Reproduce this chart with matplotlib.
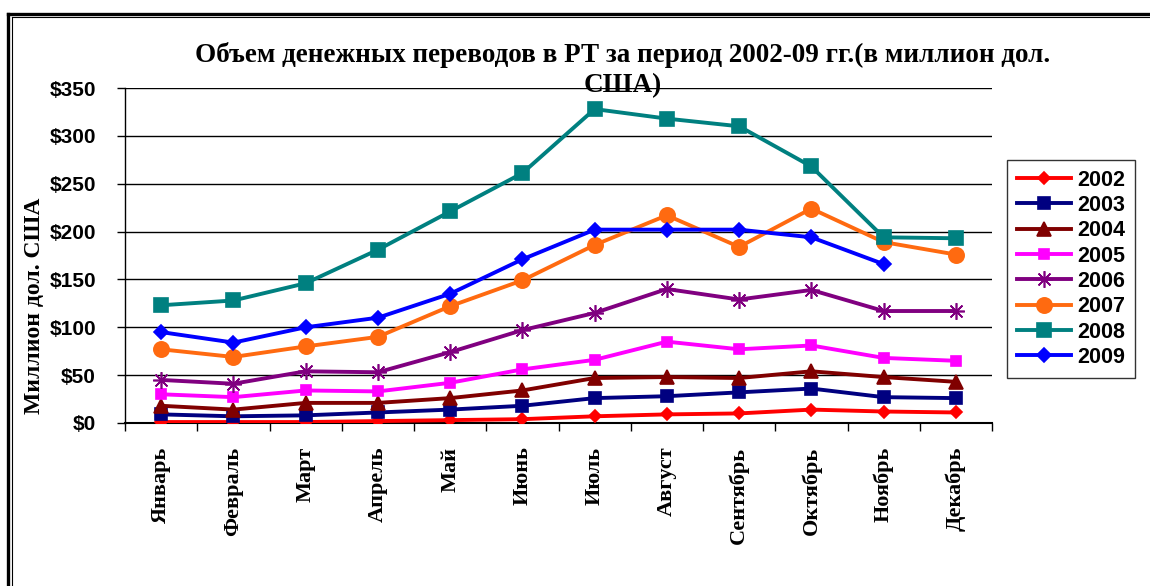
import numpy as np
import matplotlib.pyplot as plt
from matplotlib.lines import Line2D

months = ['Январь', 'Февраль', 'Март', 'Апрель', 'Май', 'Июнь', 'Июль',
          'Август', 'Сентябрь', 'Октябрь', 'Ноябрь', 'Декабрь']

y2002 = [1, 1, 1, 2, 3, 4, 7, 9, 10, 14, 12, 11]
y2003 = [9, 7, 8, 11, 14, 18, 26, 28, 32, 36, 27, 26]
y2004 = [18, 14, 21, 21, 26, 34, 47, 48, 47, 54, 48, 43]
y2005 = [30, 27, 34, 33, 42, 56, 66, 85, 77, 81, 68, 65]
y2006 = [45, 41, 54, 53, 74, 97, 115, 140, 129, 139, 117, 117]
y2007 = [77, 69, 80, 90, 122, 149, 186, 217, 184, 224, 189, 176]
y2008 = [123, 128, 146, 181, 221, 261, 328, 318, 310, 268, 194, 193]
y2009 = [95, 84, 100, 110, 135, 171, 202, 202, 202, 194, 166]

series = [
    ('2002', y2002, '#FF0000', 'D', 6),
    ('2003', y2003, '#000080', 's', 9),
    ('2004', y2004, '#800000', '^', 10),
    ('2005', y2005, '#FF00FF', 's', 7),
    ('2006', y2006, '#800080', (8, 2, 0), 12),
    ('2007', y2007, '#FF6A10', 'o', 11),
    ('2008', y2008, '#008080', 's', 10),
    ('2009', y2009, '#0000FF', 'D', 7),
]

fig = plt.figure(figsize=(11.5, 5.86), dpi=100)
ax = fig.add_axes([125 / 1150, 1 - 423 / 586, 867 / 1150, 335 / 586])

for name, vals, col, mk, ms in series:
    x = np.arange(len(vals))
    ax.plot(x, vals, color=col, lw=2.8, marker=mk, ms=ms,
            mec=col, mfc=col, mew=1.2, label=name, zorder=3)

ax.set_xlim(-0.5, 11.5)
ax.set_ylim(0, 350)
ax.set_yticks(np.arange(0, 351, 50))
ax.set_yticklabels(['$%d' % v for v in range(0, 351, 50)],
                   fontfamily='Liberation Sans', fontweight='bold', fontsize=15)
ax.yaxis.grid(True, color='black', lw=1.0)
ax.set_axisbelow(True)

ax.set_xticks(np.arange(12))
ax.set_xticklabels(months, rotation=90, fontfamily='Liberation Serif',
                   fontweight='bold', fontsize=16, va='top')
ax.tick_params(axis='x', length=0, pad=17)
ax.set_xticks(np.arange(-0.5, 12, 1), minor=True)
ax.tick_params(axis='x', which='minor', length=6, width=1, direction='out')
ax.tick_params(axis='y', length=6, width=1, direction='out', pad=15)

ax.spines['top'].set_visible(False)
ax.spines['right'].set_visible(False)
ax.spines['left'].set_linewidth(1)
ax.spines['bottom'].set_linewidth(1.5)

ax.set_ylabel('Миллион дол. США', fontfamily='Liberation Serif',
              fontweight='bold', fontsize=17)
ax.yaxis.set_label_coords(-0.092, 0.35)

fig.text(623 / 1150, 1 - 42 / 586,
         'Объем денежных переводов в РТ за период 2002-09 гг.(в миллион дол.\nСША)',
         ha='center', va='top', fontfamily='Liberation Serif', fontweight='bold',
         fontsize=19.5, linespacing=1.25)

leg = ax.legend(loc='upper left', bbox_to_anchor=(1007 / 1150, 1 - 160 / 586),
                bbox_transform=fig.transFigure, frameon=True, fancybox=False,
                edgecolor='black', handlelength=2.5, labelspacing=0.2,
                borderpad=0.45, handletextpad=0.3, borderaxespad=0,
                prop={'family': 'Liberation Sans', 'weight': 'bold', 'size': 15.5})
leg.get_frame().set_linewidth(1)

# double frame around the chart
fig.add_artist(Line2D([8 / 1150, 8 / 1150], [0, 1 - 14 / 586], color='black',
                      lw=2.4, transform=fig.transFigure))
fig.add_artist(Line2D([8 / 1150, 1], [1 - 14 / 586, 1 - 14 / 586], color='black',
                      lw=2.4, transform=fig.transFigure))
fig.add_artist(Line2D([11.5 / 1150, 11.5 / 1150], [0, 1 - 17 / 586], color='black',
                      lw=0.8, transform=fig.transFigure))
fig.add_artist(Line2D([11.5 / 1150, 1], [1 - 17 / 586, 1 - 17 / 586], color='black',
                      lw=0.8, transform=fig.transFigure))

fig.savefig('out.png', dpi=100)
